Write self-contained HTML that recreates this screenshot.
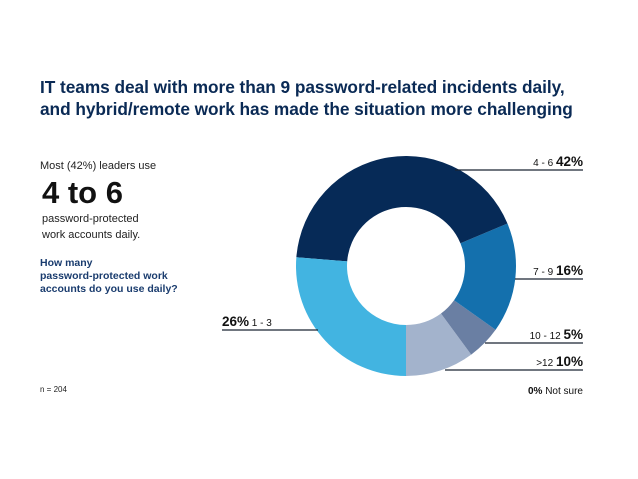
<!DOCTYPE html>
<html><head><meta charset="utf-8"><style>
body{margin:0;background:#fff;font-family:"Liberation Sans",sans-serif}
#wrap{position:relative;width:638px;height:479px;overflow:hidden}
.t{position:absolute;white-space:nowrap}
</style></head><body>
<div id="wrap">
<div class="t" style="left:40px;top:76px;font-size:17.3px;letter-spacing:-0.05px;font-weight:bold;color:#0a2a55;line-height:22px">IT teams deal with more than 9 password-related incidents daily,<br>and hybrid/remote work has made the situation more challenging</div>
<div class="t" style="left:40px;top:160px;font-size:11px;color:#222">Most (42%) leaders use</div>
<div class="t" style="left:42px;top:175px;font-size:31px;font-weight:bold;color:#111">4 to 6</div>
<div class="t" style="left:42px;top:211px;font-size:11px;color:#222;line-height:16px">password-protected<br>work accounts daily.</div>
<div class="t" style="left:40px;top:257px;font-size:10.5px;font-weight:bold;color:#1a3c6e;line-height:13px">How many<br>password-protected work<br>accounts do you use daily?</div>
<div class="t" style="left:40px;top:385px;font-size:8px;color:#222">n = 204</div>
<svg id="svg" width="638" height="479" style="position:absolute;left:0;top:0"></svg>
</div>
<script>
const categories=[">12","10 - 12","7 - 9","4 - 6","1 - 3"];
const values=[10,5,16,42,26];
const colors=["#a3b3cc","#6a7fa3","#1470ad","#062a57","#42b4e1"];
const NS="http://www.w3.org/2000/svg";
const svg=document.getElementById('svg');
const cx=406,cy=266,R=110,r=59;
const total=values.reduce((a,b)=>a+b,0);
function pt(f,rad){const a=2*Math.PI*f;return [cx+rad*Math.sin(a),cy+rad*Math.cos(a)];}
let acc=0;
values.forEach((v,i)=>{
  const f0=acc/total,f1=(acc+v)/total;acc+=v;
  const large=(f1-f0)>0.5?1:0;
  const [x0,y0]=pt(f0,R),[x1,y1]=pt(f1,R),[x2,y2]=pt(f1,r),[x3,y3]=pt(f0,r);
  const p=document.createElementNS(NS,'path');
  p.setAttribute('d',`M${x0},${y0} A${R},${R} 0 ${large} 0 ${x1},${y1} L${x2},${y2} A${r},${r} 0 ${large} 1 ${x3},${y3}Z`);
  p.setAttribute('fill',colors[i]);
  
  
  svg.appendChild(p);
});
const labelLines=[[445,370,'r'],[485,343,'r'],[515,279,'r'],[455,170,'r'],[318,330,'l']];
categories.forEach((c,i)=>{
  const [lx,ly,side]=labelLines[i];
  const ln=document.createElementNS(NS,'line');
  const xEnd=side==='r'?583:222;
  ln.setAttribute('x1',lx);ln.setAttribute('x2',xEnd);ln.setAttribute('y1',ly);ln.setAttribute('y2',ly);
  ln.setAttribute('stroke','#1a2433');ln.setAttribute('stroke-width','1.2');
  
  
  svg.appendChild(ln);
  const t=document.createElementNS(NS,'text');
  t.setAttribute('y',ly-4);
  t.setAttribute('font-family','Liberation Sans, sans-serif');
  t.setAttribute('fill','#111');
  if(side==='r'){t.setAttribute('x',583);t.setAttribute('text-anchor','end');
    t.innerHTML=`<tspan font-size="10">${c.replace('>','&gt;')} </tspan><tspan font-size="13.5" font-weight="bold">${values[i]}%</tspan>`;}
  else{t.setAttribute('x',222);
    t.innerHTML=`<tspan font-size="13.5" font-weight="bold">${values[i]}%</tspan><tspan font-size="10"> ${c}</tspan>`;}
  
  
  svg.appendChild(t);
});
const ns=document.createElementNS(NS,'text');
ns.setAttribute('x',583);ns.setAttribute('y',394);ns.setAttribute('text-anchor','end');
ns.setAttribute('font-family','Liberation Sans, sans-serif');ns.setAttribute('fill','#111');
ns.innerHTML='<tspan font-size="10" font-weight="bold">0%</tspan><tspan font-size="10"> Not sure</tspan>';


svg.appendChild(ns);
</script>
</body></html>
